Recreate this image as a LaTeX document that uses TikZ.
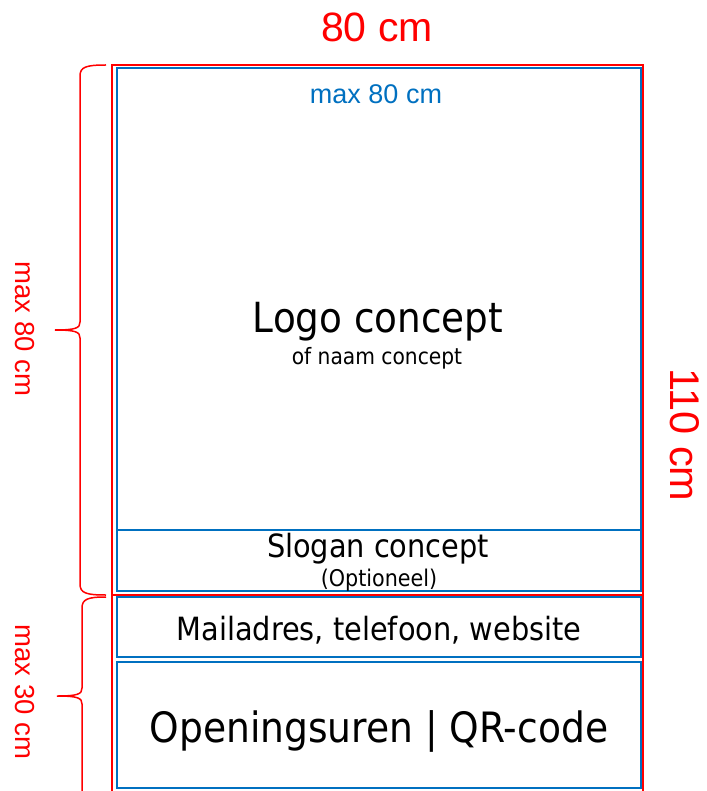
\documentclass[tikz,border=0pt]{standalone}
\usepackage{fontspec}
\setmainfont{Liberation Sans}
\newfontfamily\tahfont{DejaVu Sans Condensed}
\definecolor{dimred}{RGB}{255,0,0}
\definecolor{boxblue}{RGB}{0,112,192}
\begin{document}
\begin{tikzpicture}[x=1pt,y=-1pt,
  redline/.style={draw=dimred,line width=1.8pt},
  blueline/.style={draw=boxblue,line width=1.2pt},
  brace/.style={draw=dimred,line width=1.5pt},
  dimlabel/.style={text=dimred,inner sep=0pt,anchor=base},
  bluelabel/.style={text=boxblue,inner sep=0pt,anchor=base},
  txt/.style={inner sep=0pt,anchor=base,font=\tahfont}]
\useasboundingbox (0,0) rectangle (706,791);
\begin{scope}
\clip (0,0) rectangle (706,791);
% outer red frame
\draw[redline] (112,800) -- (112,65) -- (643,65) -- (643,800);
\draw[redline] (112,595) -- (643,595);
% blue boxes
\draw[blueline] (117,68) rectangle (641,591);
\draw[blueline] (117,530) -- (641,530);
\draw[blueline] (117,597) rectangle (641,657);
\draw[blueline] (117,662) rectangle (641,788);
% braces
\draw[brace] (106,65) .. controls (86,65) and (80,67) .. (80,76) -- (80,322)
  .. controls (80,328) and (76,330) .. (55,330)
  .. controls (76,330) and (80,332) .. (80,338) -- (80,584)
  .. controls (80,593) and (86,595) .. (106,595);
\draw[brace] (106,597) .. controls (88,597) and (82,599) .. (82,608) -- (82,688)
  .. controls (82,694) and (78,696) .. (57,696)
  .. controls (78,696) and (82,698) .. (82,704) -- (82,795);
\end{scope}
% dimension labels
\node[dimlabel,font=\fontsize{41}{41}\selectfont] (w) at (377,42) {80 cm};
\node[dimlabel,font=\fontsize{41.5}{41.5}\selectfont,rotate=-90] (h) at (670,435) {110 cm};
\node[dimlabel,font=\fontsize{27.5}{27.5}\selectfont,rotate=-90] (m80) at (15,329) {max 80 cm};
\node[dimlabel,font=\fontsize{27.5}{27.5}\selectfont,rotate=-90] (m30) at (15,692) {max 30 cm};
\node[bluelabel,font=\fontsize{27}{27}\selectfont] (bm80) at (376,104) {max 80 cm};
% content texts
\node[txt,font=\tahfont\fontsize{41.5}{41.5}\selectfont] (logo) at (378,332) {Logo concept};
\node[txt,font=\tahfont\fontsize{22.5}{22.5}\selectfont] (naam) at (377,364) {of naam concept};
\node[txt,font=\tahfont\fontsize{32}{32}\selectfont] (slogan) at (378,557) {Slogan concept};
\node[txt,font=\tahfont\fontsize{23}{23}\selectfont] (opt) at (379,586) {(Optioneel)};
\node[txt,font=\tahfont\fontsize{32}{32}\selectfont] (mail) at (379,640) {Mailadres, telefoon, website};
\node[txt,font=\tahfont\fontsize{41.8}{41.8}\selectfont] (open) at (379,742) {Openingsuren | QR-code};
\end{tikzpicture}
\end{document}
